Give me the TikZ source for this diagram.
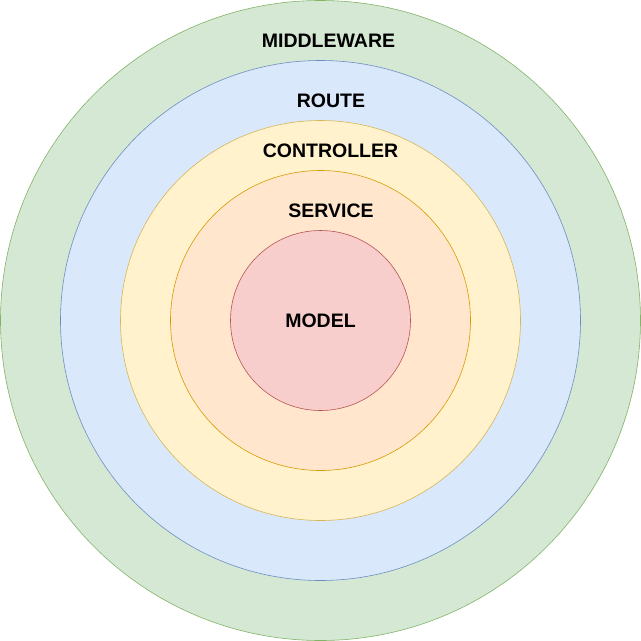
\documentclass[tikz,border=0pt]{standalone}
\usepackage{fontspec}
\setmainfont{Liberation Sans}
\definecolor{gF}{HTML}{D5E8D4}\definecolor{gS}{HTML}{82B366}
\definecolor{bF}{HTML}{DAE8FC}\definecolor{bS}{HTML}{6C8EBF}
\definecolor{yF}{HTML}{FFF2CC}\definecolor{yS}{HTML}{D6B656}
\definecolor{oF}{HTML}{FFE6CC}\definecolor{oS}{HTML}{D79B00}
\definecolor{rF}{HTML}{F8CECC}\definecolor{rS}{HTML}{B85450}
\tikzset{ring/.style={circle,line width=0.6pt,inner sep=0pt},
lbl/.style={font=\fontsize{19.5}{22}\selectfont\bfseries,inner sep=0pt}}
\begin{document}
\begin{tikzpicture}[x=1pt,y=-1pt]
\useasboundingbox (0,0) rectangle (641,641);
\node[ring,fill=gF,draw=gS,minimum size=640pt] (mw) at (320.5,320.5) {};
\node[ring,fill=bF,draw=bS,minimum size=520pt] (rt) at (320.5,320.5) {};
\node[ring,fill=yF,draw=yS,minimum size=400pt] (ct) at (320.5,320.5) {};
\node[ring,fill=oF,draw=oS,minimum size=300pt] (sv) at (320.5,320.5) {};
\node[ring,fill=rF,draw=rS,minimum size=180pt] (md) at (320.5,320.5) {};
\node[lbl] (tmw) at (328.5,41) {MIDDLEWARE};
\node[lbl] (trt) at (331,101) {ROUTE};
\node[lbl] (tct) at (330.5,151) {CONTROLLER};
\node[lbl] (tsv) at (331,211) {SERVICE};
\node[lbl] (tmd) at (320.5,320.5) {MODEL};
\end{tikzpicture}
\end{document}
